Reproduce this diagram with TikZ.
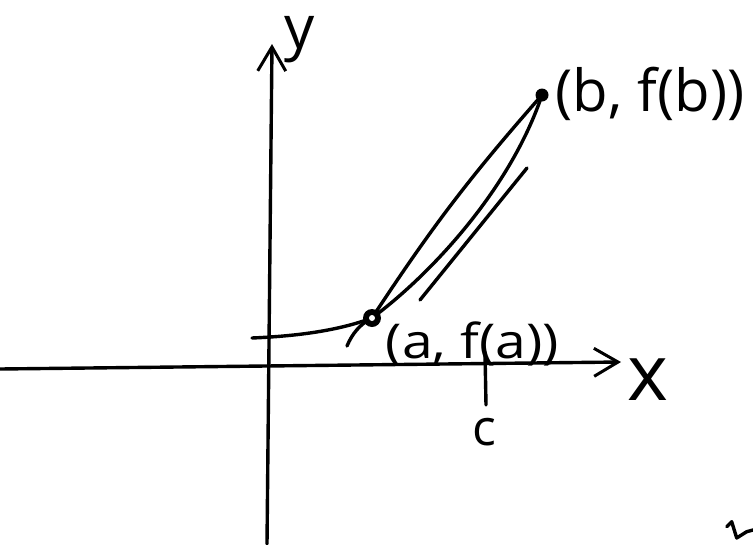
\documentclass[tikz,border=0pt]{standalone}
\usepackage{fontspec}
\setmainfont{Open Sans}
\usetikzlibrary{arrows.meta}
\begin{document}
\begin{tikzpicture}[x=1pt,y=-1pt,line width=3.4pt,line cap=round,line join=round,
  axis/.style={-{Straight Barb[length=24pt,width=28pt,line width=3pt]}},
  lbl/.style={inner sep=0pt,font=\fontsize{#1}{#1}\selectfont}]
\useasboundingbox (0,0) rectangle (753,544);
\fill[white] (0,0) rectangle (753,544);
% axes
\coordinate (xs) at (0,369);
\coordinate (xe) at (621,362);
\coordinate (ys) at (267,544);
\coordinate (ye) at (272,44);
\draw[axis] (xs) -- (xe);
\draw[axis] (ys) -- (ye);
% points
\coordinate (a) at (372,318);
\coordinate (b) at (542,95);
\coordinate (c0) at (485,352);
\coordinate (c1) at (486,405);
\coordinate (cs) at (252,338);
\coordinate (t0) at (420,300);
\coordinate (t1) at (527,168);
\coordinate (s0) at (347,346);
% curve
\draw (cs) .. controls (300,336) and (340,330) .. (a)
      .. controls (430,275) and (510,190) .. (b);
\draw (s0) .. controls (352,334) and (360,324) .. (a);
% chord
\draw (a) to[bend left=4] (b);
% tangent
\draw (t0) -- (t1);
% c tick
\draw (c0) -- (c1);
% dots
\fill (a) circle (9);
\fill[white] (a) circle (3);
\fill (b) circle (6.5);
% labels
\node[lbl=78] (lx) at (648,380) {x};
\node[lbl=60] (ly) at (300,40) {y};
\node[lbl=50] (lc) at (484,432) {c};
\node[lbl=48,anchor=base west,xscale=1.15] (la) at (384,358) {(a, f(a))};
\node[lbl=58,anchor=west] (lb) at (554,94) {(b, f(b))};
% stray mark
\draw (726.7,526.7) -- (731.7,521.7) -- (736.7,538) -- (746.7,531.7) -- (753,530);
\end{tikzpicture}
\end{document}
